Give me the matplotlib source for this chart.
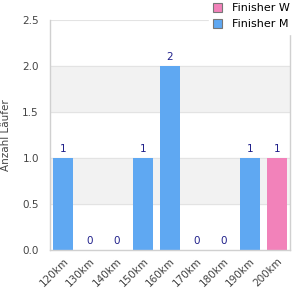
import numpy as np
import matplotlib
matplotlib.use("Agg")
import matplotlib.pyplot as plt

categories = ["120km", "130km", "140km", "150km", "160km", "170km", "180km", "190km", "200km"]
finisher_m = [1, 0, 0, 1, 2, 0, 0, 1, 0]
finisher_w = [0, 0, 0, 0, 0, 0, 0, 0, 1]

col_m = "#5fa8f2"
col_w = "#f282ba"

fig = plt.figure(figsize=(3, 3), dpi=100)
ax = fig.add_axes([50 / 300, 50 / 300, 240 / 300, 230 / 300])

x = np.arange(len(categories))
ax.set_xlim(-0.5, len(categories) - 0.5)
ax.set_ylim(0, 2.5)

# abwechselnde Hintergrundbänder
for lo in [0.5, 1.5]:
    ax.axhspan(lo, lo + 0.5, color="#f2f2f2", zorder=0)
for y in [0.5, 1.0, 1.5, 2.0, 2.5]:
    ax.axhline(y, color="#e3e3e3", lw=0.8, zorder=0.5)

ax.bar(x, finisher_m, width=0.75, color=col_m, label="Finisher M", zorder=2)
ax.bar(x, finisher_w, width=0.75, bottom=finisher_m, color=col_w, label="Finisher W", zorder=2)

totals = np.array(finisher_m) + np.array(finisher_w)
for xi, t in zip(x, totals):
    ax.annotate(str(t), (xi, t), xytext=(0, 3), textcoords="offset points",
                ha="center", va="bottom", fontsize=7.5, color="#1f1f8a")

ax.spines["top"].set_visible(False)
for s in ["left", "bottom", "right"]:
    ax.spines[s].set_color("#d0d0d0")
    ax.spines[s].set_linewidth(1.0)

ax.set_yticks([0.0, 0.5, 1.0, 1.5, 2.0, 2.5])
ax.set_yticklabels(["0.0", "0.5", "1.0", "1.5", "2.0", "2.5"])
ax.set_xticks(x)
ax.set_xticklabels(categories, rotation=45, ha="right", rotation_mode="anchor")
ax.tick_params(axis="both", length=0, labelsize=7.5, labelcolor="#444444")
ax.tick_params(axis="y", pad=8)
ax.tick_params(axis="x", pad=4)
ax.set_ylabel("Anzahl Läufer", fontsize=7.5, color="#444444", labelpad=8)

handles, labels = ax.get_legend_handles_labels()
leg = fig.legend(handles[::-1], labels[::-1], loc="upper right", bbox_to_anchor=(0.988, 1.012),
                 fontsize=8, frameon=True, fancybox=False, edgecolor="white",
                 handlelength=0.8, handleheight=0.8, handletextpad=0.9,
                 labelspacing=0.55, borderaxespad=0.2)
leg.get_frame().set_facecolor("white")
leg.get_frame().set_alpha(1)
for h in leg.legend_handles:
    h.set_edgecolor("#777777")
    h.set_linewidth(0.8)

fig.savefig("out.png", dpi=100)
